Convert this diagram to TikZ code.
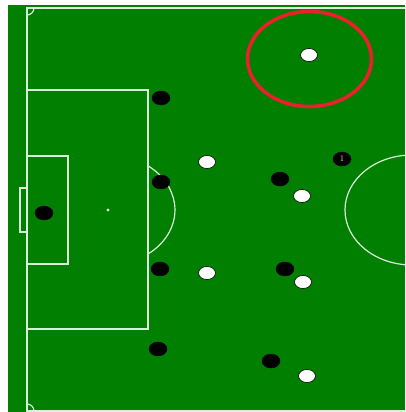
\documentclass[tikz,border=0pt]{standalone}
\usepackage{tikz}
\usepackage{xcolor}
\usetikzlibrary{shapes.geometric}
\definecolor{grass}{HTML}{007F00}
\definecolor{chalk}{HTML}{DCEEDC}
\definecolor{ring}{HTML}{E8212B}
\tikzset{
  % pitch markings
  mark line/.style={draw=chalk, line width=1.2pt},
  % a player of the black side
  blackplayer/.style={
    ellipse, fill=black, draw=black, minimum width=18pt, minimum height=14pt,
    inner sep=0pt, text=white!85!black, font=\fontsize{8.5}{8.5}\selectfont},
  % a player of the white side
  whiteplayer/.style={
    ellipse, fill=white, draw=black, line width=0.6pt,
    minimum width=17pt, minimum height=13pt, inner sep=0pt},
  % the highlight round one player
  spotlight/.style={
    ellipse, draw=ring, line width=3.6pt, minimum width=124pt,
    minimum height=95pt, inner sep=0pt},
}

\begin{document}
\begin{tikzpicture}[x=1pt, y=-1pt]
\useasboundingbox (0,0) rectangle (405,412);

% grass
\fill[grass] (8,5) rectangle (405,412);

% markings
\begin{scope}
\clip (8,5) rectangle (405,412);
\draw[mark line] (405,8) -- (27,8) -- (27,411) -- (405,411);
\draw[mark line] (27,90) rectangle (148,329);
\draw[mark line] (27,156) rectangle (68,264);
\draw[mark line] (27,188) -- (20,188) -- (20,232) -- (27,232);
\fill[chalk] (108,210) circle (1.6pt);
\draw[mark line] (148,254) arc[start angle=-53.3, end angle=53.3,
                                x radius=67pt, y radius=55pt];
\draw[mark line] (412,210) ellipse[x radius=67pt, y radius=55pt];
\draw[mark line] (34,8) arc[start angle=0, end angle=-90, radius=7pt];
\draw[mark line] (27,404) arc[start angle=90, end angle=0, radius=7pt];
\end{scope}

% black side
\node[blackplayer] (blk1) at (161,98) {};
\node[blackplayer] (blk2) at (161,182) {};
\node[blackplayer] (blk3) at (44,213) {};
\node[blackplayer] (blk4) at (160,269) {};
\node[blackplayer] (blk5) at (158,349) {};
\node[blackplayer] (blk6) at (280,179) {};
\node[blackplayer] (blk7) at (285,269) {};
\node[blackplayer] (blk8) at (271,361) {};
\node[blackplayer] (blk9) at (342,159) {1};

% white side
\node[whiteplayer] (wht1) at (309,55) {};
\node[whiteplayer] (wht2) at (207,162) {};
\node[whiteplayer] (wht3) at (302,196) {};
\node[whiteplayer] (wht4) at (207,273) {};
\node[whiteplayer] (wht5) at (303,282) {};
\node[whiteplayer] (wht6) at (307,376) {};

% highlight
\node[spotlight] (focus) at (309.5,59) {};

\end{tikzpicture}
\end{document}
